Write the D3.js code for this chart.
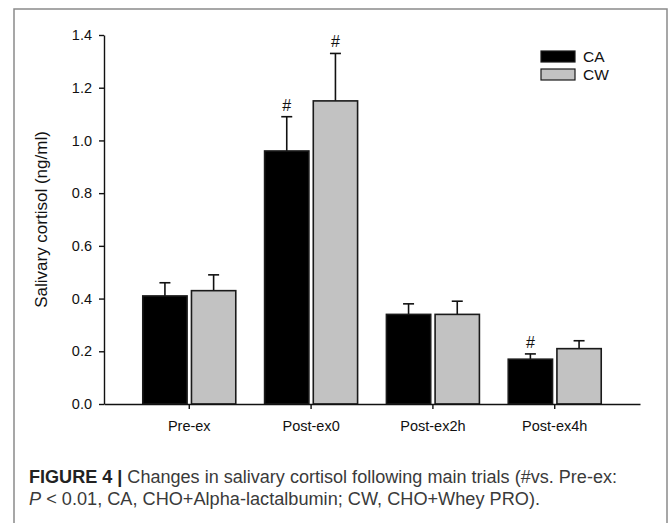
<!DOCTYPE html>
<html>
<head>
<meta charset="utf-8">
<script src="https://cdn.jsdelivr.net/npm/d3@7"></script>
<style>
    body { margin: 0; background: #fff; }
    svg { display: block; font-family: "Liberation Sans", Arial, sans-serif; }
    .axis path, .axis line { stroke: #111; stroke-width: 1.4; }
    .axis text { font-size: 14.5px; fill: #111; }
</style>
</head>
<body>
<div id="chart-area"></div>
<script>

// chart data
var categories = ["Pre-ex", "Post-ex0", "Post-ex2h", "Post-ex4h"];
var seriesNames = ["CA", "CW"];
var caMeans = [0.41, 0.96, 0.34, 0.17];
var caErrors = [0.05, 0.13, 0.04, 0.02];
var cwMeans = [0.43, 1.15, 0.34, 0.21];
var cwErrors = [0.06, 0.18, 0.05, 0.03];
// "#" = different vs. Pre-ex
var caSignif = [false, true, false, true];
var cwSignif = [false, true, false, false];
var yTicks = [0.0, 0.2, 0.4, 0.6, 0.8, 1.0, 1.2, 1.4];

var seriesFill = { CA: "#000", CW: "#c2c2c2" };


/*
 * barChart - grouped bars with upper error bars
 */

barChart = function(_parentElement){
    this.parentElement = _parentElement;
    this.initVis();
}

barChart.prototype.initVis = function(){
    var vis = this;

    vis.margin = { top: 35, right: 29, bottom: 119, left: 104 };
    vis.width = 669 - vis.margin.left - vis.margin.right,
        vis.height = 523 - vis.margin.top - vis.margin.bottom;

    vis.root = d3.select("#" + vis.parentElement).append("svg")
        .attr("width", 669)
        .attr("height", 523);

    // figure frame (runs off the bottom)
    vis.root.append("rect")
        .attr("x", 14)
        .attr("y", 9)
        .attr("width", 653)
        .attr("height", 600)
        .attr("fill", "none")
        .attr("stroke", "#8a8a8a")
        .attr("stroke-width", 1.5);

    vis.svg = vis.root.append("g")
        .attr("transform", "translate(" + vis.margin.left + "," + vis.margin.top + ")");

    // scales
    vis.x0 = d3.scaleBand()
        .domain(categories)
        .range([0, vis.width])
        .paddingInner(0)
        .paddingOuter(0.2);

    vis.x1 = d3.scaleBand()
        .domain(seriesNames)
        .range([-46.5, 46.5])
        .paddingInner(0.09);

    vis.y = d3.scaleLinear()
        .domain([0, 1.4])
        .range([vis.height, 0]);

    vis.xAxis = d3.axisBottom(vis.x0)
        .tickSize(5)
        .tickPadding(12)
        .tickSizeOuter(0);

    vis.yAxis = d3.axisLeft(vis.y)
        .tickValues(yTicks)
        .tickFormat(d3.format(".1f"))
        .tickSize(5)
        .tickPadding(7)
        .tickSizeOuter(0);

    vis.updateVis();
}

barChart.prototype.updateVis = function(){
    var vis = this;

    var rows = [];
    categories.forEach(function(c, i){
        rows.push({ cat: c, series: "CA", mean: caMeans[i], err: caErrors[i], sig: caSignif[i] });
        rows.push({ cat: c, series: "CW", mean: cwMeans[i], err: cwErrors[i], sig: cwSignif[i] });
    });

    var xPos = function(d){
        return vis.x0(d.cat) + vis.x0.bandwidth() / 2 + vis.x1(d.series);
    };
    var xMid = function(d){
        return xPos(d) + vis.x1.bandwidth() / 2;
    };

    // error bars (upper only)
    vis.svg.selectAll(".err-line")
        .data(rows)
        .enter().append("line")
        .attr("class", "err-line")
        .attr("x1", xMid)
        .attr("x2", xMid)
        .attr("y1", function(d){ return vis.y(d.mean); })
        .attr("y2", function(d){ return vis.y(d.mean + d.err); })
        .attr("stroke", "#111")
        .attr("stroke-width", 1.6);

    vis.svg.selectAll(".err-cap")
        .data(rows)
        .enter().append("line")
        .attr("class", "err-cap")
        .attr("x1", function(d){ return xMid(d) - 5.5; })
        .attr("x2", function(d){ return xMid(d) + 5.5; })
        .attr("y1", function(d){ return vis.y(d.mean + d.err); })
        .attr("y2", function(d){ return vis.y(d.mean + d.err); })
        .attr("stroke", "#111")
        .attr("stroke-width", 1.6);

    // bars
    vis.svg.selectAll(".bar")
        .data(rows)
        .enter().append("rect")
        .attr("class", "bar")
        .attr("x", xPos)
        .attr("width", vis.x1.bandwidth())
        .attr("y", function(d){ return vis.y(d.mean); })
        .attr("height", function(d){ return vis.height - vis.y(d.mean); })
        .attr("fill", function(d){ return seriesFill[d.series]; })
        .attr("stroke", "#1a1a1a")
        .attr("stroke-width", 1.6);

    // significance marks
    vis.svg.selectAll(".sig")
        .data(rows.filter(function(d){ return d.sig; }))
        .enter().append("text")
        .attr("class", "sig")
        .attr("x", xMid)
        .attr("y", function(d){ return vis.y(d.mean + d.err) - 6; })
        .attr("text-anchor", "middle")
        .attr("font-size", "16px")
        .attr("fill", "#111")
        .text("#");

    // axes
    vis.svg.append("g")
        .attr("class", "x-axis axis")
        .attr("transform", "translate(0," + vis.height + ")")
        .call(vis.xAxis);

    vis.svg.append("g")
        .attr("class", "y-axis axis")
        .call(vis.yAxis);

    vis.svg.selectAll(".axis .domain").attr("stroke", "#111");

    vis.svg.append("text")
        .attr("transform", "translate(-57," + (vis.height / 2) + ") rotate(-90)")
        .attr("text-anchor", "middle")
        .attr("font-size", "17px")
        .attr("fill", "#111")
        .text("Salivary cortisol (ng/ml)");

    // legend
    var legend = vis.root.selectAll(".legend")
        .data(seriesNames)
        .enter().append("g")
        .attr("class", "legend")
        .attr("transform", function(d, i){ return "translate(541," + (51 + i * 18) + ")"; });

    legend.append("rect")
        .attr("width", 34)
        .attr("height", 11)
        .attr("fill", function(d){ return seriesFill[d]; })
        .attr("stroke", "#1a1a1a")
        .attr("stroke-width", 1.2);

    legend.append("text")
        .attr("x", 42)
        .attr("y", 5.5)
        .attr("dy", "0.35em")
        .attr("font-size", "15.5px")
        .attr("fill", "#111")
        .text(function(d){ return d; });

    // figure caption
    var cap1 = vis.root.append("text")
        .attr("x", 29)
        .attr("y", 483)
        .attr("font-size", "17.5px")
        .attr("fill", "#3a3a3a")
        .attr("textLength", 588)
        .attr("lengthAdjust", "spacingAndGlyphs");
    cap1.append("tspan").attr("font-weight", "bold").attr("fill", "#222").text("FIGURE 4 | ");
    cap1.append("tspan").text("Changes in salivary cortisol following main trials (#vs. Pre-ex:");

    var cap2 = vis.root.append("text")
        .attr("x", 29)
        .attr("y", 505)
        .attr("font-size", "17.5px")
        .attr("fill", "#3a3a3a")
        .attr("textLength", 511)
        .attr("lengthAdjust", "spacingAndGlyphs");
    cap2.append("tspan").attr("font-style", "italic").text("P");
    cap2.append("tspan").text(" < 0.01, CA, CHO+Alpha-lactalbumin; CW, CHO+Whey PRO).");
}

var chart = new barChart("chart-area");

</script>
</body>
</html>
